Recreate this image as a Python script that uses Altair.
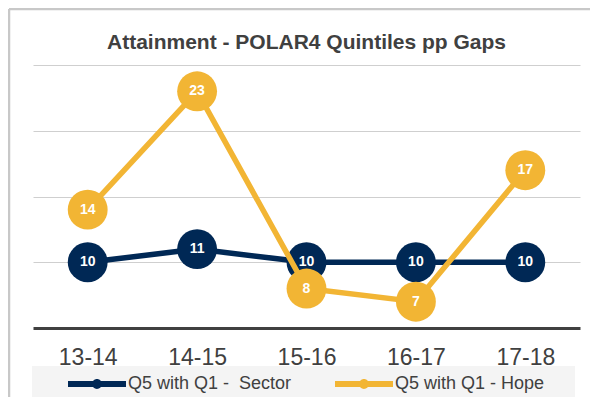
import altair as alt
import pandas as pd

# ---- data ----
years = ["13-14", "14-15", "15-16", "16-17", "17-18"]
sector = [10, 11, 10, 10, 10]
hope = [14, 23, 8, 7, 17]
series_names = ["Q5 with Q1 - \u00a0Sector", "Q5 with Q1 - Hope"]
series_colors = ["#002855", "#F2B534"]
title_text = "Attainment - POLAR4 Quintiles pp Gaps"

rows = []
for sid, (name, vals) in enumerate(zip(series_names, [sector, hope])):
    for yr, v in zip(years, vals):
        rows.append({"year": yr, "series": name, "sid": sid, "value": v})
df = pd.DataFrame(rows)

W, H = 547, 263
FONT = "Liberation Sans"
TXT = "#404040"

x_enc = alt.X(
    "year:N", sort=years,
    scale=alt.Scale(type="point", padding=0.5),
    axis=alt.Axis(title=None, labelAngle=0, labelFontSize=23, labelColor=TXT,
                  labelFont=FONT, labelPadding=18, ticks=False,
                  domainColor="#404040", domainWidth=3, grid=False),
)
y_enc = alt.Y(
    "value:Q",
    scale=alt.Scale(domain=[5, 25], nice=False, zero=False),
    axis=alt.Axis(title=None, labels=False, ticks=False, domain=False,
                  values=[10, 15, 20, 25], gridColor="#cfcfcf", gridWidth=1.2),
)
color_scale = alt.Scale(domain=series_names, range=series_colors)

SYMBOL_PATH = ("M-1,-0.1 L1,-0.1 L1,0.1 L-1,0.1 Z "
               "M-0.17,0 A0.17,0.17 0 1,1 0.17,0 A0.17,0.17 0 1,1 -0.17,0 Z")

legend_def = alt.Legend(
    title=None, orient="none", legendX=35, legendY=290, direction="horizontal",
    symbolType=SYMBOL_PATH, symbolSize=3364, symbolStrokeWidth=0, symbolOpacity=1,
    labelFontSize=18, labelColor=TXT, labelFont=FONT, labelOffset=2, labelLimit=400,
    columnPadding=43, padding=0, zindex=2,
)

one = pd.DataFrame({"k": [0]})
frame_top = alt.Chart(one).mark_rule(color="#c8c8c8", strokeWidth=2.5).encode(
    x=alt.value(-24), x2=alt.value(570), y=alt.value(-56))
frame_left = alt.Chart(one).mark_rule(color="#c8c8c8", strokeWidth=2.5).encode(
    x=alt.value(-24), y=alt.value(-56), y2=alt.value(400))
legend_bg = alt.Chart(one).mark_rect(color="#f4f4f4").encode(
    x=alt.value(-1), x2=alt.value(542), y=alt.value(301), y2=alt.value(340))
title_mark = alt.Chart(pd.DataFrame({"t": [title_text]})).mark_text(
    fontSize=21, fontWeight="bold", color=TXT, font=FONT,
    align="center", baseline="alphabetic").encode(
    x=alt.value(W / 2), y=alt.value(-16), text="t:N")

layers = [frame_top, frame_left, legend_bg, title_mark]
for sid in range(2):
    base = alt.Chart(df).transform_filter(alt.datum.sid == sid)
    line = base.mark_line(strokeWidth=5.5, color=series_colors[sid]).encode(
        x=x_enc, y=y_enc)
    pts = base.mark_circle(size=1590, opacity=1).encode(
        x=x_enc, y=y_enc,
        color=alt.Color("series:N", scale=color_scale, legend=legend_def))
    txt = base.mark_text(color="white", fontWeight="bold", fontSize=14, font=FONT,
                         baseline="middle", align="center").encode(
        x=x_enc, y=y_enc, text=alt.Text("value:Q", format="d"))
    layers += [line, pts, txt]

chart = alt.layer(*layers).properties(
    width=W, height=H,
    autosize=alt.AutoSizeParams(type="none"),
    padding={"left": 25, "top": 57, "right": 10, "bottom": 69},
).configure(font=FONT).configure_view(stroke=None)

chart.save("out.html", embed_options={"renderer": "svg", "actions": False})
